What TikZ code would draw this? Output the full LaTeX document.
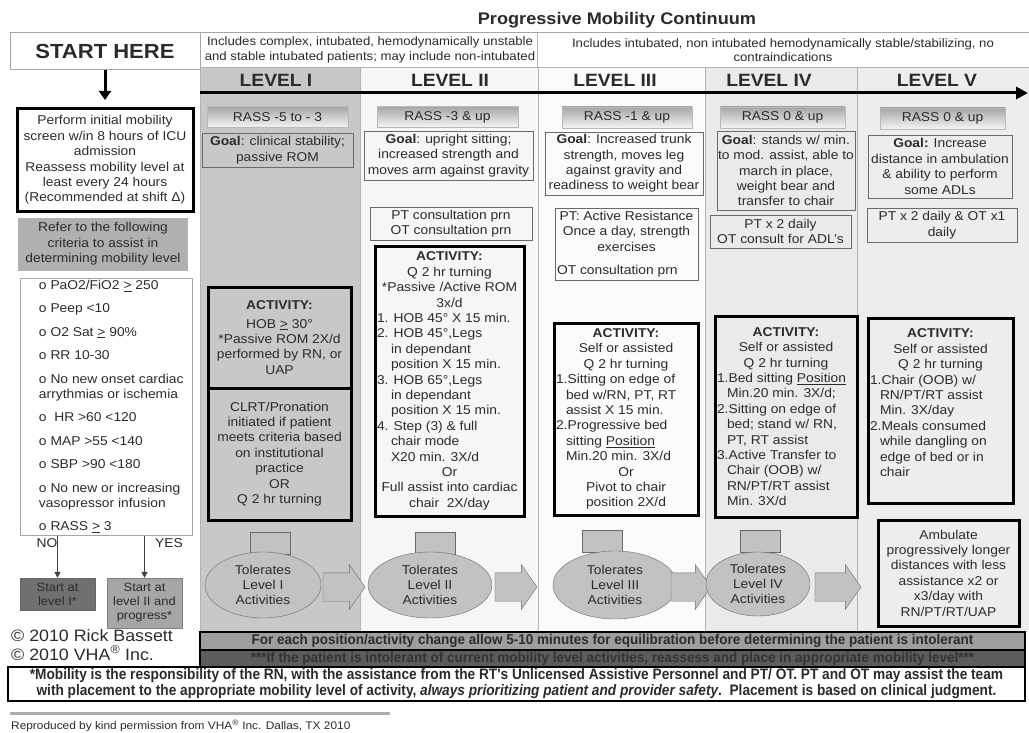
\documentclass[tikz,border=0pt]{standalone}
\usepackage{fontspec}
\setmainfont[FakeStretch=1.08]{Liberation Sans}
\newfontfamily\narrowsf[FakeStretch=0.9]{Liberation Sans}
\newfontfamily\barsf[FakeStretch=0.95]{Liberation Sans}
\usetikzlibrary{arrows.meta,positioning,shapes.geometric,shapes.arrows}
\setlength{\parindent}{0pt}
\definecolor{txt}{HTML}{2B2B2B}
\definecolor{colI}{HTML}{C8C8C8}
\definecolor{colII}{HTML}{F6F6F6}
\definecolor{colIII}{HTML}{FBFBFB}
\definecolor{colIV}{HTML}{EAEAEA}
\definecolor{colV}{HTML}{EDEDED}
\definecolor{tolfill}{HTML}{C2C2C2}
\definecolor{edge}{HTML}{6A6A6A}
\newcommand{\listln}[1]{\makebox[\listwd][l]{#1}}
\newcommand{\critln}[1]{\makebox[166pt][l]{\hspace{16pt}#1}}
\tikzset{
  rassbar/.style={draw=gray!55,top color=gray!70,bottom color=gray!8,minimum height=21},
  goalbox/.style={draw=edge,line width=0.9},
  actbox/.style={draw=black,line width=3},
  listw/.style={execute at begin node={\gdef\listwd{#1}}},
  tolnode/.style={ellipse,draw=edge,fill=tolfill,inner sep=0},
  tolcap/.style={draw=edge,fill=tolfill,minimum width=40,minimum height=22},
  tolarrow/.style={single arrow,draw=edge,fill=tolfill,minimum height=42,inner xsep=0,inner ysep=14,
    single arrow head extend=8,single arrow tip angle=110},
  levelhd/.style={font=\fontsize{17.8}{20}\selectfont\bfseries},
  barnode/.style={draw=black,line width=2,minimum width=825,minimum height=17.5,inner sep=0,
    font=\barsf\bfseries\fontsize{14.2}{15}\selectfont},
}
\begin{document}
\begin{tikzpicture}[x=1pt,y=-1pt,
  every node/.style={text=txt,font=\fontsize{12.8}{15.4}\selectfont,inner sep=1pt,align=center}]
\useasboundingbox (0,0) rectangle (1029,733);
\fill[white] (0,0) rectangle (1029,733);

\node[font=\fontsize{16.8}{19}\selectfont\bfseries] (title) at (617,20) {Progressive Mobility Continuum};
\draw[gray!70,line width=1] (10,33) -- (1029,33);
\node[draw=gray!70,line width=1,minimum width=190,minimum height=37,font=\fontsize{20.4}{23}\selectfont\bfseries] (start) at (105,51.5) {START HERE};
\node[font=\fontsize{12.2}{14.5}\selectfont] (hdrA) at (370,50) {Includes complex, intubated, hemodynamically unstable\\and stable intubated patients; may include non-intubated};
\node[font=\fontsize{12.2}{14.5}\selectfont] (hdrB) at (783,50) {Includes intubated, non intubated hemodynamically stable/stabilizing, no\\contraindications};

\fill[colI] (200,67) rectangle (360,632);
\fill[colII] (360,67) rectangle (538,632);
\fill[colIII] (538,67) rectangle (705,632);
\fill[colIV] (705,67) rectangle (857,632);
\fill[colV] (857,67) rectangle (1029,632);
\foreach \colx in {200,360,538,705,857}
  \draw[gray!60] (\colx,67) -- (\colx,632);
\draw[gray!60] (537,33) -- (537,67);
\draw[gray!60] (200,67) -- (1029,67);

\node[levelhd] (lvI) at (276,80) {LEVEL I};
\node[levelhd] (lvII) at (450,80) {LEVEL II};
\node[levelhd] (lvIII) at (615,80) {LEVEL III};
\node[levelhd] (lvIV) at (769,80) {LEVEL IV};
\node[levelhd] (lvV) at (937,80) {LEVEL V};
\coordinate (lvstart) at (200,93);
\coordinate (lvend) at (1028,93);
\draw[line width=3,-{Triangle[length=12pt,width=12pt]}] (lvstart) -- (lvend);

\node[draw=black,line width=3,minimum width=176,minimum height=103] (screen) at (105,160)
  {Perform initial mobility\\screen w/in 8 hours of ICU\\admission\\Reassess mobility level at\\least every 24 hours\\(Recommended at shift Δ)};
\draw[line width=3,-{Triangle[length=9pt,width=12pt]},shorten >=7pt] (start) -- (screen);
\node[draw=gray!60,fill=gray!62,minimum width=169,minimum height=52] (refer) at (103,244)
  {Refer to the following\\criteria to assist in\\determining mobility level};
\node[draw=gray!70,line width=1,minimum width=172,minimum height=257,align=left] (crit) at (106,406.5)
  {\critln{o PaO2/FiO2 \underline{>} 250}\\[8pt]\critln{o Peep <10}\\[8pt]\critln{o O2 Sat \underline{>} 90\%}\\[8pt]
   \critln{o RR 10-30}\\[8pt]\critln{o No new onset cardiac}\\\critln{arrythmias or ischemia}\\[8pt]
   \critln{o~ HR >60 <120}\\[8pt]\critln{o MAP >55 <140}\\[8pt]\critln{o SBP >90 <180}\\[8pt]
   \critln{o No new or increasing}\\\critln{vasopressor infusion}\\[8pt]\critln{o RASS \underline{>} 3}};
\node (no) at (47,543) {NO};
\node (yes) at (169,543) {YES};
\node[fill=black!56,draw=black!60,minimum width=75,minimum height=32,font=\fontsize{12}{14}\selectfont] (startI) at (57.5,594) {Start at\\level I*};
\node[fill=black!35,draw=black!50,minimum width=75,minimum height=50,font=\fontsize{12}{14}\selectfont] (startII) at (144.5,603) {Start at\\level II and\\progress*};
\draw[line width=1.2,black!75,-{Triangle[length=6pt,width=6pt]}] (crit.south -| startI) -- (startI);
\draw[line width=1.2,black!75,-{Triangle[length=6pt,width=6pt]}] (crit.south -| startII) -- (startII);
\node[anchor=west,inner sep=0,font=\fontsize{16.5}{18}\selectfont] (copyA) at (11,636) {© 2010 Rick Bassett};
\node[anchor=west,inner sep=0,font=\fontsize{16.5}{18}\selectfont] (copyB) at (11,653) {© 2010 VHA\textsuperscript{®} Inc.};

\node[rassbar,minimum width=141] (rassI) at (277.5,117) {RASS -5 to - 3};
\node[goalbox,minimum width=151,minimum height=34] (goalI) at (277.5,150) {\textbf{Goal}: clinical stability;\\passive ROM};
\node[actbox,minimum width=143,minimum height=101] (actIa) at (279.5,337.5)
  {\textbf{ACTIVITY:}\\[3pt]HOB \underline{>} 30°\\*Passive ROM 2X/d\\performed by RN, or\\UAP};
\node[actbox,minimum width=143,minimum height=132,below=-3pt of actIa] (actIb)
  {CLRT/Pronation\\initiated if patient\\meets criteria based\\on institutional\\practice\\OR\\Q 2 hr turning};
\node[tolcap] (capI) at (270,543) {};
\node[tolnode,minimum width=116,minimum height=66] (tolI) at (263,585) {Tolerates\\Level I\\Activities};
\node[tolarrow] (arrI) at (339,587) {};

\node[rassbar,minimum width=141] (rassII) at (447.5,117) {RASS -3 \& up};
\node[goalbox,minimum width=169,minimum height=49] (goalII) at (448.5,155.5)
  {\textbf{Goal}: upright sitting;\\increased strength and\\moves arm against gravity};
\node[goalbox,minimum width=162,minimum height=33] (ptII) at (451,223.5) {PT consultation prn\\OT consultation prn};
\node[actbox,listw=145pt,minimum width=149,minimum height=270] (actII) at (449.5,381)
  {\textbf{ACTIVITY:}\\Q 2 hr turning\\*Passive /Active ROM\\3x/d\\
   \listln{1. HOB 45° X 15 min.}\\\listln{2. HOB 45°,Legs}\\\listln{\hspace{14pt}in dependant}\\
   \listln{\hspace{14pt}position X 15 min.}\\\listln{3. HOB 65°,Legs}\\\listln{\hspace{14pt}in dependant}\\
   \listln{\hspace{14pt}position X 15 min.}\\\listln{4. Step (3) \& full}\\\listln{\hspace{14pt}chair mode}\\
   \listln{\hspace{14pt}X20 min. 3X/d}\\Or\\Full assist into cardiac\\chair~~2X/day};
\node[tolcap] (capII) at (435,543) {};
\node[tolnode,minimum width=124,minimum height=66] (tolII) at (430,585) {Tolerates\\Level II\\Activities};
\node[tolarrow] (arrII) at (511,587) {};

\node[rassbar,minimum width=130] (rassIII) at (627,117.5) {RASS -1 \& up};
\node[goalbox,minimum width=158,minimum height=63] (goalIII) at (624,163.5)
  {\textbf{Goal}: Increased trunk\\strength, moves leg\\against gravity and\\readiness to weight bear};
\node[goalbox,listw=139pt,minimum width=143,minimum height=72] (ptIII) at (626.5,244)
  {PT: Active Resistance\\Once a day, strength\\exercises\\[8pt]\listln{OT consultation prn}};
\node[actbox,listw=140pt,minimum width=144,minimum height=192] (actIII) at (626,419)
  {\textbf{ACTIVITY:}\\Self or assisted\\Q 2 hr turning\\\listln{1.Sitting on edge of}\\
   \listln{\hspace{10pt}bed w/RN, PT, RT}\\\listln{\hspace{10pt}assist X 15 min.}\\\listln{2.Progressive bed}\\
   \listln{\hspace{10pt}sitting \underline{Position}}\\\listln{\hspace{10pt}Min.20 min. 3X/d}\\Or\\Pivot to chair\\position 2X/d};
\node[tolcap] (capIII) at (602,541) {};
\node[tolnode,minimum width=124,minimum height=68] (tolIII) at (615,585) {Tolerates\\Level III\\Activities};
\node[tolarrow,minimum height=40] (arrIII) at (686,587) {};

\node[rassbar,minimum width=125] (rassIV) at (782.5,117.5) {RASS 0 \& up};
\node[goalbox,minimum width=138,minimum height=79] (goalIV) at (786,170.5)
  {\textbf{Goal}: stands w/ min.\\to mod. assist, able to\\march in place,\\weight bear and\\transfer to chair};
\node[goalbox,minimum width=141,minimum height=33] (ptIV) at (780.5,231.5) {PT x 2 daily\\OT consult for ADL's};
\node[actbox,listw=138pt,minimum width=142,minimum height=201] (actIV) at (786,416.5)
  {\textbf{ACTIVITY:}\\Self or assisted\\Q 2 hr turning\\\listln{1.Bed sitting \underline{Position}}\\
   \listln{\hspace{10pt}Min.20 min. 3X/d;}\\\listln{2.Sitting on edge of}\\\listln{\hspace{10pt}bed; stand w/ RN,}\\
   \listln{\hspace{10pt}PT, RT assist}\\\listln{3.Active Transfer to}\\\listln{\hspace{10pt}Chair (OOB) w/}\\
   \listln{\hspace{10pt}RN/PT/RT assist}\\\listln{\hspace{10pt}Min. 3X/d}};
\node[tolcap] (capIV) at (760,541) {};
\node[tolnode,minimum width=104,minimum height=64] (tolIV) at (758,584) {Tolerates\\Level IV\\Activities};
\node[tolarrow,minimum height=46] (arrIV) at (833,587) {};

\node[rassbar,minimum width=125] (rassV) at (942.5,118.5) {RASS 0 \& up};
\node[goalbox,minimum width=144,minimum height=63] (goalV) at (940,166.5)
  {\textbf{Goal:} Increase\\distance in ambulation\\\& ability to perform\\some ADLs};
\node[goalbox,minimum width=150,minimum height=34] (ptV) at (942,225) {PT x 2 daily \& OT x1\\daily};
\node[actbox,listw=141pt,minimum width=145,minimum height=185] (actV) at (940.5,410.5)
  {\textbf{ACTIVITY:}\\Self or assisted\\Q 2 hr turning\\\listln{1.Chair (OOB) w/}\\
   \listln{\hspace{10pt}RN/PT/RT assist}\\\listln{\hspace{10pt}Min. 3X/day}\\\listln{2.Meals consumed}\\
   \listln{\hspace{10pt}while dangling on}\\\listln{\hspace{10pt}edge of bed or in}\\\listln{\hspace{10pt}chair}\\\mbox{}};
\node[actbox,minimum width=141,minimum height=106] (ambV) at (948.5,573)
  {Ambulate\\progressively longer\\distances with less\\assistance x2 or\\x3/day with\\RN/PT/RT/UAP};

\node[barnode,fill=black!38] (barA) at (612.5,641)
  {For each position/activity change allow 5-10 minutes for equilibration before determining the patient is intolerant};
\node[barnode,fill=black!64,text=black!80,below=-2pt of barA] (barB)
  {***If the patient is intolerant of current mobility level activities, reassess and place in appropriate mobility level***};
\node[draw=black,line width=2.5,fill=white,minimum width=1017,minimum height=34,inner sep=0,
  font=\narrowsf\bfseries\fontsize{15.2}{16}\selectfont] (note) at (516.5,684)
  {*Mobility is the responsibility of the RN, with the assistance from the RT's Unlicensed Assistive Personnel and PT/ OT. PT and OT may assist the team\\
   with placement to the appropriate mobility level of activity, \textit{always prioritizing patient and provider safety}.~~Placement is based on clinical judgment.};
\coordinate (ruleA) at (10,713);
\coordinate (ruleB) at (390,713);
\draw[line width=3,gray!65] (ruleA) -- (ruleB);
\node[anchor=south west,font=\fontsize{11}{13}\selectfont] (repro) at (10,733) {Reproduced by kind permission from VHA\textsuperscript{®} Inc. Dallas, TX 2010};
\end{tikzpicture}
\end{document}
